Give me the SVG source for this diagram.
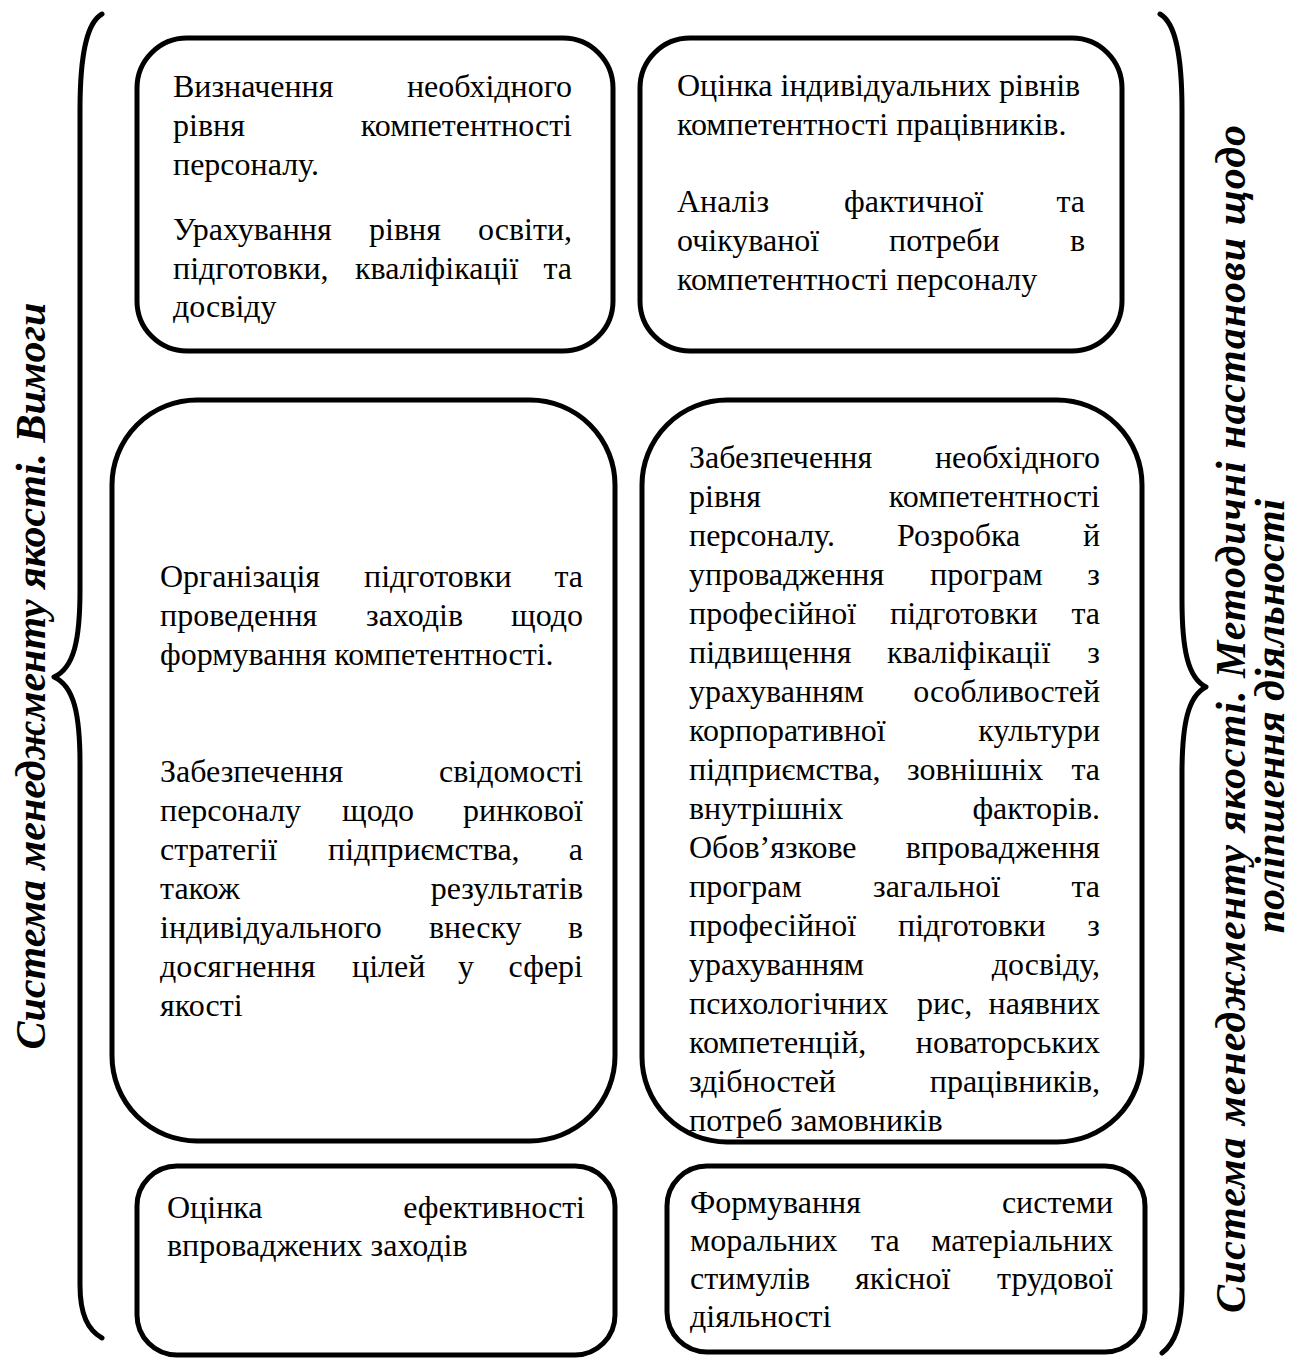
<svg xmlns="http://www.w3.org/2000/svg" width="1293" height="1358" viewBox="0 0 1293 1358">
  <style>
    .box { fill: #fff; stroke: #000; stroke-width: 5; }
    .brace { fill: none; stroke: #000; stroke-width: 5; stroke-linecap: round; stroke-linejoin: round; }
    .t { font-family: "Liberation Serif", "Times New Roman", serif; font-size: 32px; fill: #000; }
    .e { text-anchor: end; }
    .side { font-family: "Liberation Serif", "Times New Roman", serif; font-size: 42px; font-weight: bold; font-style: italic; fill: #000; text-anchor: middle; }
  </style>
  <rect width="1293" height="1358" fill="#fff"/>

  <!-- Braces -->
  <g id="connectors">
    <path class="brace" d="M 102 14 C 88 22, 80 50, 80 110 L 80 590 C 80 640, 74 668, 54 677 C 74 686, 80 714, 80 764 L 80 1285 C 80 1315, 88 1330, 102 1338"/>
    <path class="brace" d="M 1160 14 C 1174 22, 1182 50, 1182 110 L 1182 600 C 1182 650, 1188 678, 1206 687 C 1188 696, 1182 724, 1182 774 L 1182 1290 C 1182 1325, 1175 1343, 1162 1353"/>
  </g>

  <!-- Side captions -->
  <g id="caption-left">
    <text class="side" transform="translate(45,676) rotate(-90)">Система менеджменту якості. Вимоги</text>
  </g>
  <g id="caption-right">
    <text class="side" textLength="1188" lengthAdjust="spacing" transform="translate(1245,719) rotate(-90)">Система менеджменту якості. Методичні настанови щодо</text>
    <text class="side" transform="translate(1284,716) rotate(-90)">поліпшення діяльності</text>
  </g>

  <!-- Top left -->
  <g id="node-tl">
    <rect class="box" x="137" y="38" width="476" height="313" rx="50"/>
    <text class="t" x="173" y="97">Визначення</text><text class="t e" x="572" y="97">необхідного</text>
    <text class="t" x="173" y="136">рівня</text><text class="t e" x="572" y="136">компетентності</text>
    <text class="t" x="173" y="175">персоналу.</text>
    <text class="t" x="173" y="240">Урахування</text><text class="t" x="369" y="240">рівня</text><text class="t e" x="572" y="240">освіти,</text>
    <text class="t" x="173" y="279">підготовки,</text><text class="t" x="355" y="279">кваліфікації</text><text class="t e" x="572" y="279">та</text>
    <text class="t" x="173" y="317">досвіду</text>
  </g>

  <!-- Top right -->
  <g id="node-tr">
    <rect class="box" x="640" y="38" width="482" height="313" rx="50"/>
    <text class="t" x="677" y="96">Оцінка індивідуальних рівнів</text>
    <text class="t" x="677" y="135">компетентності працівників.</text>
    <text class="t" x="677" y="212">Аналіз</text><text class="t" x="844" y="212">фактичної</text><text class="t e" x="1085" y="212">та</text>
    <text class="t" x="677" y="251">очікуваної</text><text class="t" x="889" y="251">потреби</text><text class="t e" x="1085" y="251">в</text>
    <text class="t" x="677" y="290">компетентності персоналу</text>
  </g>

  <!-- Middle left -->
  <g id="node-ml">
    <rect class="box" x="112" y="400" width="503" height="741" rx="85"/>
    <text class="t" x="160" y="587">Організація</text><text class="t" x="364" y="587">підготовки</text><text class="t e" x="583" y="587">та</text>
    <text class="t" x="160" y="626">проведення</text><text class="t" x="366" y="626">заходів</text><text class="t e" x="583" y="626">щодо</text>
    <text class="t" x="160" y="665">формування компетентності.</text>
    <text class="t" x="160" y="782">Забезпечення</text><text class="t e" x="583" y="782">свідомості</text>
    <text class="t" x="160" y="821">персоналу</text><text class="t" x="342" y="821">щодо</text><text class="t e" x="583" y="821">ринкової</text>
    <text class="t" x="160" y="860">стратегії</text><text class="t" x="328" y="860">підприємства,</text><text class="t e" x="583" y="860">а</text>
    <text class="t" x="160" y="899">також</text><text class="t e" x="583" y="899">результатів</text>
    <text class="t" x="160" y="938">індивідуального</text><text class="t" x="429" y="938">внеску</text><text class="t e" x="583" y="938">в</text>
    <text class="t" x="160" y="977">досягнення</text><text class="t" x="352" y="977">цілей</text><text class="t" x="458" y="977">у</text><text class="t e" x="583" y="977">сфері</text>
    <text class="t" x="160" y="1016">якості</text>
  </g>

  <!-- Middle right -->
  <g id="node-mr">
    <rect class="box" x="642" y="400" width="500" height="742" rx="85"/>
    <text class="t" x="689" y="468">Забезпечення</text><text class="t e" x="1100" y="468">необхідного</text>
    <text class="t" x="689" y="507">рівня</text><text class="t e" x="1100" y="507">компетентності</text>
    <text class="t" x="689" y="546">персоналу.</text><text class="t" x="897" y="546">Розробка</text><text class="t e" x="1100" y="546">й</text>
    <text class="t" x="689" y="585">упровадження</text><text class="t" x="930" y="585">програм</text><text class="t e" x="1100" y="585">з</text>
    <text class="t" x="689" y="624">професійної</text><text class="t" x="890" y="624">підготовки</text><text class="t e" x="1100" y="624">та</text>
    <text class="t" x="689" y="663">підвищення</text><text class="t" x="887" y="663">кваліфікації</text><text class="t e" x="1100" y="663">з</text>
    <text class="t" x="689" y="702">урахуванням</text><text class="t e" x="1100" y="702">особливостей</text>
    <text class="t" x="689" y="741">корпоративної</text><text class="t e" x="1100" y="741">культури</text>
    <text class="t" x="689" y="780">підприємства,</text><text class="t" x="907" y="780">зовнішніх</text><text class="t e" x="1100" y="780">та</text>
    <text class="t" x="689" y="819">внутрішніх</text><text class="t e" x="1100" y="819">факторів.</text>
    <text class="t" x="689" y="858">Обов’язкове</text><text class="t e" x="1100" y="858">впровадження</text>
    <text class="t" x="689" y="897">програм</text><text class="t" x="873" y="897">загальної</text><text class="t e" x="1100" y="897">та</text>
    <text class="t" x="689" y="936">професійної</text><text class="t" x="898" y="936">підготовки</text><text class="t e" x="1100" y="936">з</text>
    <text class="t" x="689" y="975">урахуванням</text><text class="t e" x="1100" y="975">досвіду,</text>
    <text class="t" x="689" y="1014">психологічних</text><text class="t" x="917" y="1014">рис,</text><text class="t e" x="1100" y="1014">наявних</text>
    <text class="t" x="689" y="1053">компетенцій,</text><text class="t e" x="1100" y="1053">новаторських</text>
    <text class="t" x="689" y="1092">здібностей</text><text class="t e" x="1100" y="1092">працівників,</text>
    <text class="t" x="689" y="1131">потреб замовників</text>
  </g>

  <!-- Bottom left -->
  <g id="node-bl">
    <rect class="box" x="137" y="1166" width="478" height="189" rx="40"/>
    <text class="t" x="167" y="1218">Оцінка</text><text class="t e" x="585" y="1218">ефективності</text>
    <text class="t" x="167" y="1256">впроваджених заходів</text>
  </g>

  <!-- Bottom right -->
  <g id="node-br">
    <rect class="box" x="667" y="1166" width="478" height="186" rx="40"/>
    <text class="t" x="690" y="1213">Формування</text><text class="t e" x="1113" y="1213">системи</text>
    <text class="t" x="690" y="1251">моральних</text><text class="t" x="871" y="1251">та</text><text class="t e" x="1113" y="1251">матеріальних</text>
    <text class="t" x="690" y="1289">стимулів</text><text class="t" x="855" y="1289">якісної</text><text class="t e" x="1113" y="1289">трудової</text>
    <text class="t" x="690" y="1327">діяльності</text>
  </g>
</svg>
